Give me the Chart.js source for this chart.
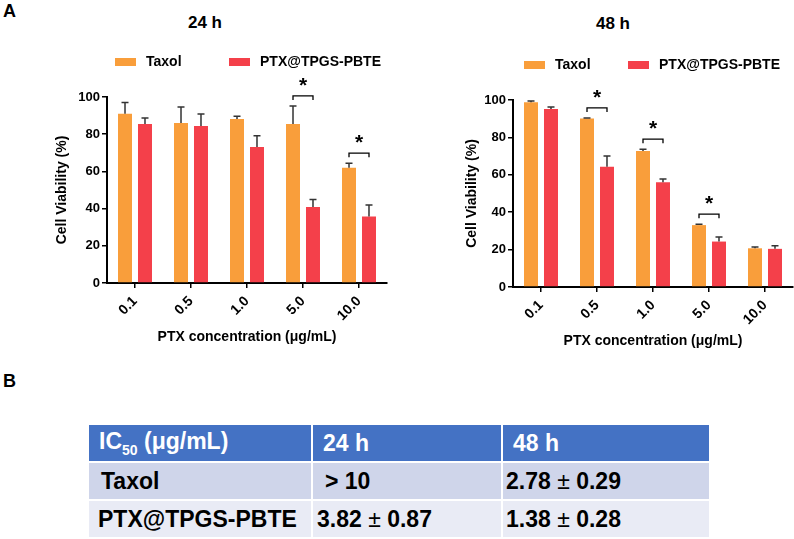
<!DOCTYPE html>
<html>
<head>
<meta charset="utf-8">
<script src="https://cdn.jsdelivr.net/npm/chart.js@4"></script>
<style>
  body { margin: 0; width: 794px; height: 539px; position: relative; background: #fff; overflow: hidden;
         font-family: "Liberation Sans", Arial, sans-serif; }
  .lbl { position: absolute; font-weight: bold; color: #000; line-height: 1; transform: translateY(-50%); }
  .ttl { position: absolute; font-weight: bold; color: #000; font-size: 17px; line-height: 1; transform: translate(-50%, -50%); }
  #c24 { position: absolute; left: 0; top: 0; }
  #c48 { position: absolute; left: 400px; top: 0; }
  table { position: absolute; left: 87px; top: 423px; border-collapse: separate; border-spacing: 2px;
          font-size: 23px; font-weight: bold; }
  td { height: 36px; padding: 0 0 0 8px; box-sizing: border-box; vertical-align: middle; white-space: nowrap; }
  tr.head td { background: #4472C4; color: #fff; padding-left: 10px; }
  tr.r1 td { background: #CFD5EA; }
  tr.r2 td { background: #E9EBF5; }
  .pm { font-weight: normal; }
  sub { font-size: 14px; }
</style>
</head>
<body>
<div class="lbl" style="left:3px;top:11px;font-size:18px">A</div>
<div class="lbl" style="left:3px;top:381px;font-size:18px">B</div>
<div class="ttl" style="left:205px;top:22px">24 h</div>
<div class="ttl" style="left:613px;top:23px">48 h</div>
<canvas id="c24" width="400" height="360"></canvas>
<canvas id="c48" width="394" height="360"></canvas>

<table>
  <tr class="head"><td style="width:222px">IC<sub>50</sub> (μg/mL)</td><td style="width:188px">24 h</td><td style="width:206px">48 h</td></tr>
  <tr class="r1"><td style="padding-left:12px">Taxol</td><td style="padding-left:12px">&gt; 10</td><td style="padding-left:3px">2.78 <span class="pm">±</span> 0.29</td></tr>
  <tr class="r2"><td style="padding-left:9px">PTX@TPGS-PBTE</td><td style="padding-left:4px">3.82 <span class="pm">±</span> 0.87</td><td style="padding-left:3px">1.38 <span class="pm">±</span> 0.28</td></tr>
</table>

<script>
const concentrations = ['0.1', '0.5', '1.0', '5.0', '10.0']
const seriesNames = ['Taxol', 'PTX@TPGS-PBTE']
const seriesColors = ['#F99E3B', '#F4404A']

// 24 h, mean and upper SD
const taxol24 = [91, 86, 88.2, 85.5, 62]
const taxol24Err = [6, 8.6, 1.4, 9.7, 2.4]
const ptx24 = [85.5, 84.4, 73.1, 40.9, 35.7]
const ptx24Err = [3.2, 6.5, 6, 4, 6.2]
const sig24 = ['5.0', '10.0']

// 48 h
const taxol48 = [98.8, 90.1, 72.7, 33.1, 20.7]
const taxol48Err = [0.7, 0.3, 1, 0.5, 0.7]
const ptx48 = [95.2, 64.3, 56, 24.3, 20.4]
const ptx48Err = [1, 5.7, 1.8, 2.5, 1.6]
const sig48 = ['0.5', '1.0', '5.0']

const FONT = '"Liberation Sans", Arial, sans-serif'

const errorBars = {
  id: 'errorBars',
  afterDatasetsDraw(chart) {
    const ctx = chart.ctx
    const y = chart.scales.y
    chart.data.datasets.forEach((ds, i) => {
      chart.getDatasetMeta(i).data.forEach((bar, j) => {
        const top = y.getPixelForValue(ds.data[j] + ds.errors[j])
        ctx.save()
        ctx.strokeStyle = '#333'
        ctx.lineWidth = 1.5
        ctx.beginPath()
        ctx.moveTo(bar.x, bar.y)
        ctx.lineTo(bar.x, top)
        ctx.moveTo(bar.x - 3.5, top)
        ctx.lineTo(bar.x + 3.5, top)
        ctx.stroke()
        ctx.restore()
      })
    })
  }
}

const sigMarks = {
  id: 'sigMarks',
  afterDatasetsDraw(chart, args, opts) {
    const ctx = chart.ctx
    const y = chart.scales.y
    opts.pairs.forEach(label => {
      const idx = chart.data.labels.indexOf(label)
      const a = chart.getDatasetMeta(0).data[idx]
      const b = chart.getDatasetMeta(1).data[idx]
      const tops = chart.data.datasets.map(ds => y.getPixelForValue(ds.data[idx] + ds.errors[idx]))
      const yb = Math.min(...tops) - 10
      ctx.save()
      ctx.strokeStyle = '#000'
      ctx.lineWidth = 1.3
      ctx.beginPath()
      ctx.moveTo(a.x, yb + 4)
      ctx.lineTo(a.x, yb)
      ctx.lineTo(b.x, yb)
      ctx.lineTo(b.x, yb + 4)
      ctx.stroke()
      ctx.fillStyle = '#000'
      ctx.font = 'bold 21px ' + FONT
      ctx.textAlign = 'center'
      ctx.textBaseline = 'middle'
      ctx.fillText('*', (a.x + b.x) / 2, yb - 10)
      ctx.restore()
    })
  }
}

const boxLegend = {
  id: 'boxLegend',
  afterDraw(chart, args, opts) {
    const ctx = chart.ctx
    const area = chart.chartArea
    ctx.save()
    ctx.font = 'bold 14px ' + FONT
    ctx.textBaseline = 'middle'
    chart.data.datasets.forEach((ds, i) => {
      const x = area.left + opts.x[i]
      const yc = area.top + opts.y
      ctx.fillStyle = ds.backgroundColor
      ctx.fillRect(x, yc - 4, 21, 8)
      ctx.fillStyle = '#000'
      ctx.fillText(ds.label, x + 31, yc)
    })
    ctx.restore()
  }
}

const makeChart = (id, taxol, taxolErr, ptx, ptxErr, sig, lay) => {
  new Chart(document.getElementById(id), {
    type: 'bar',
    data: {
      labels: concentrations,
      datasets: [
        { label: seriesNames[0], data: taxol, errors: taxolErr, backgroundColor: seriesColors[0],
          categoryPercentage: 0.714, barPercentage: 0.7 },
        { label: seriesNames[1], data: ptx, errors: ptxErr, backgroundColor: seriesColors[1],
          categoryPercentage: 0.714, barPercentage: 0.7 }
      ]
    },
    options: {
      responsive: false,
      animation: false,
      devicePixelRatio: 1,
      layout: { padding: { top: lay.top, right: lay.right, left: 0, bottom: 0 } },
      plugins: {
        legend: { display: false },
        tooltip: { enabled: false },
        sigMarks: { pairs: sig },
        boxLegend: { x: lay.legendX, y: -35 }
      },
      scales: {
        x: {
          afterFit: s => { s.height = lay.xHeight },
          grid: { offset: false, drawOnChartArea: false, drawTicks: true, tickLength: 5, color: '#000', lineWidth: 1.5 },
          border: { color: '#000', width: 2 },
          ticks: { color: '#000', font: { family: FONT, size: 14, weight: 'bold' }, minRotation: 45, maxRotation: 45, padding: 5 },
          title: { display: true, text: 'PTX concentration (μg/mL)', color: '#000',
                   font: { family: FONT, size: 14, weight: 'bold' }, padding: { top: 4, bottom: lay.xTitlePad } }
        },
        y: {
          min: 0,
          max: 100,
          afterFit: s => { s.width = lay.yWidth },
          grid: { drawOnChartArea: false, drawTicks: true, tickLength: 5, color: '#000', lineWidth: 1.5 },
          border: { color: '#000', width: 2 },
          ticks: { stepSize: 20, color: '#000', font: { family: FONT, size: 13, weight: 'bold' }, padding: 2 },
          title: { display: true, text: 'Cell Viability (%)', color: '#000',
                   font: { family: FONT, size: 14, weight: 'bold' }, padding: { top: lay.yTitlePad, bottom: 0 } }
        }
      }
    },
    plugins: [errorBars, sigMarks, boxLegend]
  })
}

window.addEventListener('DOMContentLoaded', () => {
  makeChart('c24', taxol24, taxol24Err, ptx24, ptx24Err, sig24,
    { top: 97, right: 13, yWidth: 107, xHeight: 77, yTitlePad: 54, xTitlePad: 14, legendX: [8, 122] })
  makeChart('c48', taxol48, taxol48Err, ptx48, ptx48Err, sig48,
    { top: 100, right: 1, yWidth: 113, xHeight: 73, yTitlePad: 64, xTitlePad: 10, legendX: [11, 115] })
})
</script>
</body>
</html>
